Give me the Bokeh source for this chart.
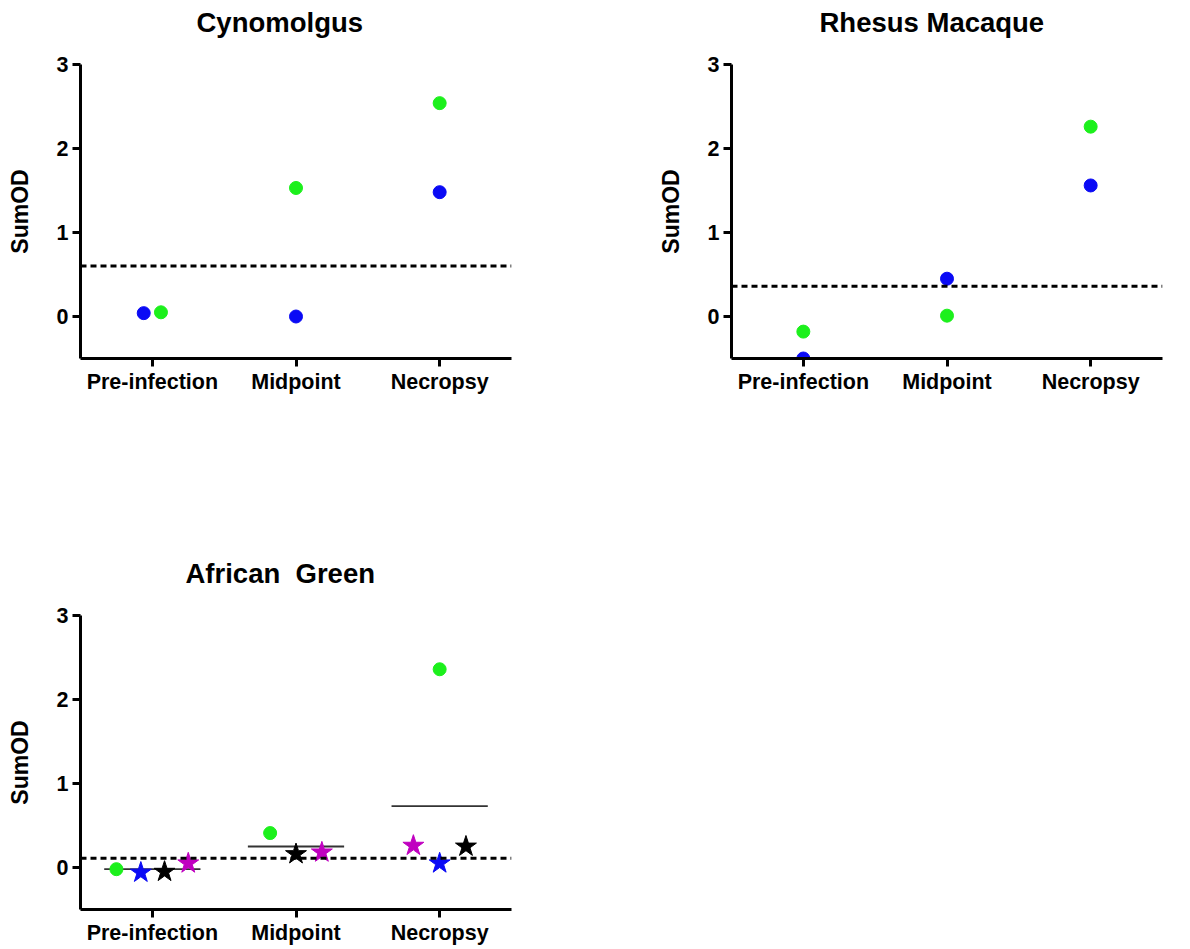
from bokeh.plotting import figure
from bokeh.models import FixedTicker, Span, Title, ColumnDataSource
from bokeh.layouts import row, column
from bokeh.embed import file_html
from bokeh.resources import INLINE

# ---------------- data ----------------
categories = ["Pre-infection", "Midpoint", "Necropsy"]
y_ticks = [0, 1, 2, 3]

cyno_green = [0.05, 1.53, 2.54]
cyno_blue = [0.04, 0.00, 1.48]
cyno_cutoff = 0.60

rhesus_green = [-0.18, 0.01, 2.26]
rhesus_blue = [-0.50, 0.45, 1.56]
rhesus_cutoff = 0.36

ag_green_circle = [-0.02, 0.41, 2.36]
ag_blue_star = [-0.06, None, 0.05]
ag_black_star = [-0.05, 0.16, 0.25]
ag_magenta_star = [0.05, 0.18, 0.26]
ag_cutoff = 0.11

# ---------------- style ----------------
FONT = "Liberation Sans"
GREEN = "#1CF01C"
BLUE = "#0A0AF5"
BLACK = "#000000"
MAGENTA = "#C000C0"

FRAME_W, FRAME_H = 431, 294
LEFT = 80
TOP = 64


def make_fig(title, title_offset, right_border, bottom_border):
    p = figure(frame_width=FRAME_W, frame_height=FRAME_H,
               output_backend="svg", toolbar_location=None,
               x_range=(-0.5, 2.5), y_range=(-0.5, 3.0),
               min_border_left=LEFT, min_border_right=right_border,
               min_border_top=TOP, min_border_bottom=bottom_border,
               title=None)
    # empty spacer between the frame and the title
    p.add_layout(Title(text="\u00a0", text_font_size="1px", standoff=16), "above")
    p.add_layout(Title(text=title, text_font=FONT, text_font_size="27.5px",
                       text_font_style="bold", text_color="black",
                       align="left", offset=title_offset,
                       vertical_align="top", standoff=12), "above")
    p.outline_line_color = None
    p.xgrid.visible = False
    p.ygrid.visible = False
    p.background_fill_color = "white"
    p.border_fill_color = "white"

    p.xaxis.ticker = FixedTicker(ticks=list(range(len(categories))))
    p.xaxis.major_label_overrides = {i: c for i, c in enumerate(categories)}
    p.yaxis.ticker = FixedTicker(ticks=y_ticks)
    p.yaxis.axis_label = "SumOD"
    for ax in (p.xaxis[0], p.yaxis[0]):
        ax.axis_line_width = 3
        ax.axis_line_color = "black"
        ax.major_tick_line_width = 3
        ax.major_tick_line_color = "black"
        ax.major_tick_out = 8
        ax.major_tick_in = 0
        ax.minor_tick_line_color = None
        ax.major_label_text_font = FONT
        ax.major_label_text_font_size = "21.5px"
        ax.major_label_text_font_style = "bold"
        ax.major_label_text_color = "black"
        ax.axis_label_text_font = FONT
        ax.axis_label_text_font_size = "23px"
        ax.axis_label_text_font_style = "bold"
        ax.axis_label_text_color = "black"
    p.yaxis.major_label_standoff = 4
    p.yaxis.axis_label_standoff = 21
    p.xaxis.major_label_standoff = 3
    return p


def add_cutoff(p, val):
    p.add_layout(Span(location=val, dimension="width", line_color="black",
                      line_width=3, line_dash="6 4"))


def pts(vals, offsets):
    xs, ys = [], []
    for i, v in enumerate(vals):
        if v is None:
            continue
        xs.append(i + offsets[i])
        ys.append(v)
    return ColumnDataSource(dict(x=xs, y=ys))


CIRC = 13
STAR = 22

# Cynomolgus
p1 = make_fig("Cynomolgus", 116, 140, 193)
add_cutoff(p1, cyno_cutoff)
p1.scatter("x", "y", source=pts(cyno_blue, [-0.06, 0, 0]), size=CIRC,
           fill_color=BLUE, line_color=BLUE)
p1.scatter("x", "y", source=pts(cyno_green, [0.06, 0, 0]), size=CIRC,
           fill_color=GREEN, line_color=GREEN)

# Rhesus
p2 = make_fig("Rhesus Macaque", 88, 23, 193)
add_cutoff(p2, rhesus_cutoff)
p2.scatter("x", "y", source=pts(rhesus_green, [0, 0, 0]), size=CIRC,
           fill_color=GREEN, line_color=GREEN)
p2.scatter("x", "y", source=pts(rhesus_blue, [0, 0, 0]), size=CIRC,
           fill_color=BLUE, line_color=BLUE)

# African Green
p3 = make_fig("African\u00a0 Green", 105, 140, 36)
add_cutoff(p3, ag_cutoff)
series = [ag_green_circle, ag_blue_star, ag_black_star, ag_magenta_star]
means = []
for i in range(len(categories)):
    v = [s[i] for s in series if s[i] is not None]
    means.append(sum(v) / len(v))
half = 0.335
p3.segment(x0=[i - half for i in range(len(categories))], y0=means,
           x1=[i + half for i in range(len(categories))], y1=means,
           line_color="#333333", line_width=1.8)
p3.scatter("x", "y", source=pts(ag_green_circle, [-0.25, -0.18, 0]), size=CIRC,
           fill_color=GREEN, line_color=GREEN)
p3.scatter("x", "y", source=pts(ag_blue_star, [-0.08, 0, 0]), size=STAR,
           marker="star", fill_color=BLUE, line_color=BLUE)
p3.scatter("x", "y", source=pts(ag_black_star, [0.085, 0, 0.183]), size=STAR,
           marker="star", fill_color=BLACK, line_color=BLACK)
p3.scatter("x", "y", source=pts(ag_magenta_star, [0.25, 0.18, -0.183]), size=STAR,
           marker="star", fill_color=MAGENTA, line_color=MAGENTA)

layout = column(row(p1, p2), p3)

open("out.html", "w").write(file_html(layout, INLINE))
